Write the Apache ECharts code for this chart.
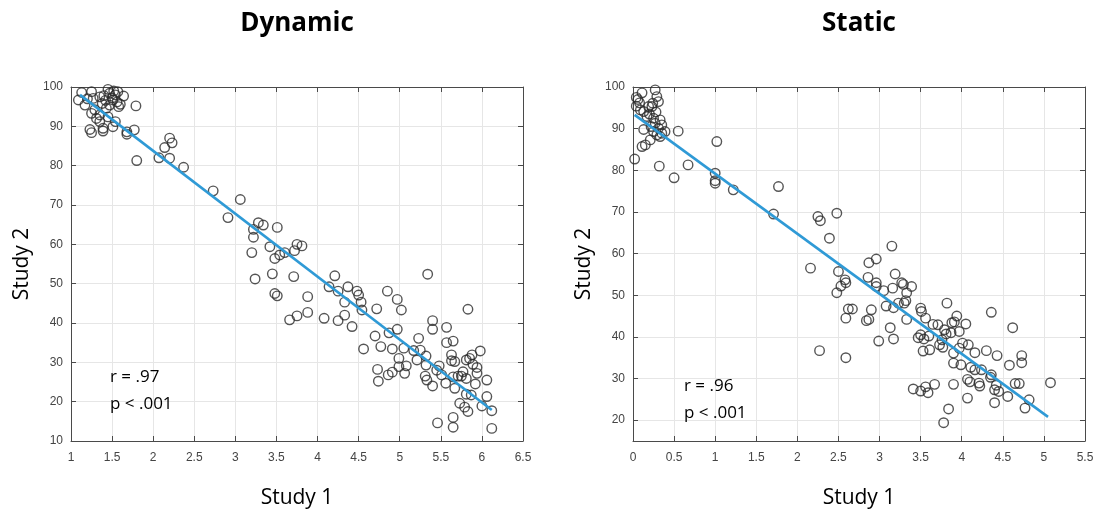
<!DOCTYPE html>
<html><head><meta charset="utf-8">
<script src="https://cdn.jsdelivr.net/npm/echarts@6/dist/echarts.min.js"></script>
<style>html,body{margin:0;padding:0;background:#fff}#c{width:1097px;height:516px}</style>
</head><body><div id="c"></div>
<script>
// ---- data ----
const dynamicPoints = [
[1.13,98.6],[1.09,96.7],[1.25,98.8],[1.17,95.4],[1.27,97.1],[1.35,97.5],[1.45,99.4],[1.47,98.4],[1.54,98.0],[1.51,96.7],
[1.64,97.7],[1.58,95.0],[1.47,95.4],[1.43,94.6],[1.29,94.2],[1.25,93.3],[1.35,92.9],[1.31,92.0],[1.35,91.2],[1.45,92.4],
[1.54,91.2],[1.51,89.9],[1.39,89.5],[1.39,88.8],[1.23,89.2],[1.25,88.4],[1.79,95.2],[1.68,88.6],[1.68,88.0],[1.77,89.1],
[1.80,81.3],[2.07,82.0],[2.14,84.6],[2.20,87.0],[2.23,85.8],[2.20,81.9],[2.37,79.6],[2.73,73.6],
[1.50,97.2],[1.56,96.2],[1.60,95.6],[1.42,96.6],[1.40,97.8],[1.52,99.0],[1.57,98.8],[1.20,97.0],[1.38,95.8],
[3.06,71.4],[2.91,66.8],[3.28,65.5],[3.34,64.9],[3.22,63.8],[3.51,64.3],[3.22,61.8],[3.42,59.4],[3.20,57.9],[3.48,56.4],
[3.54,57.3],[3.60,57.9],[3.72,58.4],[3.75,60.0],[3.81,59.6],[3.24,51.2],[3.45,52.5],[3.71,51.8],[3.48,47.5],[3.51,46.9],
[3.88,46.7],[3.66,40.8],[3.75,41.8],[3.88,42.7],[4.08,41.2],[4.21,52.0],[4.14,49.2],[4.25,48.1],[4.37,49.2],[4.48,48.1],
[4.50,47.1],[4.33,45.3],[4.53,45.3],[4.54,43.3],[4.33,42.0],[4.25,40.6],[4.42,39.1],[4.72,43.6],
[4.56,33.4],[4.85,48.1],[4.97,46.0],[5.02,43.3],[4.70,36.7],[4.77,34.0],[4.87,37.5],[4.97,38.4],[4.91,33.4],[5.05,33.6],
[4.99,31.0],[4.99,28.9],[5.08,29.1],[5.06,27.2],[4.73,28.2],[4.74,25.2],[4.86,26.8],[4.91,27.5],[5.34,52.4],[5.40,40.6],
[5.40,38.4],[5.23,36.1],[5.25,33.1],[5.17,33.0],[5.21,30.6],[5.32,31.6],[5.32,29.3],[5.31,26.5],[5.33,25.5],[5.40,24.0],
[5.46,14.6],[5.48,29.1],[5.45,28.0],[5.51,26.8],[5.57,38.9],[5.57,35.0],[5.65,35.4],[5.63,31.9],[5.63,30.4],[5.67,30.2],
[5.56,24.7],[5.67,23.4],[5.65,26.3],[5.71,26.5],[5.75,26.5],[5.81,25.9],[5.77,27.6],[5.83,43.5],[5.81,30.6],[5.85,31.0],
[5.88,31.9],[5.98,32.9],[5.89,29.5],[5.94,28.7],[5.94,27.2],[6.06,25.5],[5.92,24.5],[5.81,21.9],[5.87,21.7],[5.73,19.6],
[5.79,18.6],[5.83,17.5],[6.00,18.9],[6.06,21.3],[6.12,17.7],[5.65,16.0],[5.65,13.5],[6.12,13.2]
];
const staticPoints = [
[0.02,82.7],[0.04,97.5],[0.11,98.6],[0.04,95.4],[0.09,94.5],[0.08,96.2],[0.13,94.1],[0.17,92.9],[0.13,89.8],[0.11,85.7],
[0.15,86.1],[0.21,87.3],[0.23,95.3],[0.24,96.1],[0.27,99.3],[0.29,97.7],[0.31,96.5],[0.25,92.5],[0.27,91.3],[0.33,92.1],
[0.35,90.9],[0.31,90.1],[0.25,89.3],[0.29,88.5],[0.33,88.1],[0.39,89.3],[0.35,88.9],[0.32,81.0],[0.55,89.4],[0.50,78.2],
[0.67,81.3],[1.02,86.9],[1.00,79.3],[1.00,77.5],[1.00,76.9],[1.22,75.3],[0.19,95.3],[0.06,97.0],[0.20,93.5],[0.28,94.0],[0.22,90.5],
[1.77,76.1],[1.71,69.5],[2.25,68.9],[2.28,67.9],[2.48,69.7],[2.39,63.7],[2.16,56.5],[2.50,55.7],[2.87,57.8],[2.96,58.7],
[3.15,61.8],[2.58,53.7],[2.86,54.3],[3.19,55.1],
[2.48,50.6],[2.53,52.2],[2.59,53.0],[2.96,53.0],[2.96,52.1],[3.05,51.1],[3.16,51.7],[3.27,53.0],[3.29,52.6],[3.39,52.1],
[3.33,50.6],[3.32,48.7],[3.30,48.1],[3.23,48.1],[3.08,47.4],[3.17,47.0],[3.33,44.2],[3.13,42.2],[3.17,39.5],[2.99,39.0],
[2.62,46.7],[2.67,46.7],[2.59,44.5],[2.90,46.5],[2.87,44.2],[2.84,43.9],[2.27,36.7],[2.59,35.0],[3.50,46.9],[3.51,46.1],
[3.82,48.1],[3.56,44.5],[3.65,43.0],[3.71,42.9],[3.47,39.8],[3.50,40.5],[3.54,39.5],[3.60,40.2],[3.53,36.6],[3.61,36.9],
[3.76,39.3],[3.73,38.1],[3.77,37.5],[3.79,41.7],[3.81,40.7],[3.88,43.4],[3.91,43.6],[3.94,45.0],[3.87,41.0],[3.97,41.3],
[4.05,43.1],[3.90,36.1],[3.97,37.3],[4.01,38.5],[4.08,38.1],[3.90,33.7],[3.99,33.3],[4.11,32.7],[4.16,36.2],[4.16,32.1],
[4.24,32.1],[4.30,36.7],[4.36,45.9],[4.43,35.5],[4.36,30.9],[4.35,30.3],[4.07,29.8],[4.10,29.2],[4.21,28.9],[4.22,28.2],
[4.42,28.4],[4.40,27.3],[3.90,28.6],[4.07,25.3],[4.40,24.2],[3.41,27.5],[3.50,27.0],[3.56,28.0],[3.59,26.6],[3.67,28.6],
[3.84,22.7],[3.78,19.4],[4.45,26.9],[4.56,25.7],[4.65,28.8],[4.70,28.8],[4.77,22.9],[4.82,24.9],[5.08,29.0],
[4.62,42.2],[4.73,35.5],[4.73,33.8],[4.58,33.2]
];
const dynamicFit = [[1.11, 98.0], [6.12, 17.9]];
const staticFit = [[0.02, 93.3], [5.05, 20.8]];
const titles = ['Dynamic', 'Static'];
const dynamicStats = ['r = .97', 'p < .001'];
const staticStats = ['r = .96', 'p < .001'];
const dynamicYTicks = [10, 20, 30, 40, 50, 60, 70, 80, 90, 100];
const staticYTicks = [20, 30, 40, 50, 60, 70, 80, 90, 100];

// ---- chart ----
const axisColor = '#4a4a4a';
const gridColor = '#e6e6e6';
const labelStyle = {color: '#444', fontFamily: 'Liberation Sans', fontSize: 12};
const nameStyle = {color: '#000', fontFamily: 'Open Sans', fontSize: 21};

function xAx(g, min, max, pos) {
  return {
    type: 'value', gridIndex: g, min: min, max: max, interval: 0.5, position: pos,
    axisLine: {show: true, onZero: false, lineStyle: {color: axisColor, width: 1}},
    axisTick: {show: true, inside: true, length: 5, lineStyle: {color: axisColor}},
    axisLabel: Object.assign({show: pos === 'bottom', margin: 11}, labelStyle),
    splitLine: {show: pos === 'bottom', lineStyle: {color: gridColor, width: 1}},
    name: pos === 'bottom' ? 'Study 1' : '', nameLocation: 'middle', nameGap: 47,
    nameTextStyle: nameStyle
  };
}
function yAx(g, min, max, ticks, pos) {
  return {
    type: 'value', gridIndex: g, min: min, max: max, position: pos,
    axisLine: {show: true, onZero: false, lineStyle: {color: axisColor, width: 1}},
    axisTick: {show: true, inside: true, length: 5, lineStyle: {color: axisColor}, customValues: ticks},
    axisLabel: Object.assign({show: pos === 'left', margin: 8, customValues: ticks}, labelStyle),
    splitLine: {show: pos === 'left', lineStyle: {color: gridColor, width: 1}},
    name: pos === 'left' ? 'Study 2' : '', nameLocation: 'middle', nameGap: 38,
    nameTextStyle: nameStyle
  };
}

const grids = [
  {left: 71, top: 87, width: 452, height: 354},
  {left: 633, top: 87, width: 452, height: 354}
];

function scatter(xi, yi, pts) {
  return {
    type: 'scatter', xAxisIndex: xi, yAxisIndex: yi, data: pts, symbol: 'circle', symbolSize: 9.5,
    itemStyle: {color: 'rgba(0,0,0,0)', borderColor: '#2b2b2b', borderWidth: 1.4},
    silent: true, z: 2
  };
}
function fit(xi, yi, pts) {
  return {
    type: 'line', xAxisIndex: xi, yAxisIndex: yi, data: pts, showSymbol: false, symbol: 'none',
    lineStyle: {color: '#2f9ad6', width: 2.6}, silent: true, z: 3
  };
}
function txt(x, y, s, font, align) {
  return {type: 'text', x: x, y: y, z: 10,
    style: {text: s, font: font, fill: '#000', align: align, verticalAlign: 'middle',
      textAlign: align, textVerticalAlign: 'middle'}};
}

const chart = echarts.init(document.getElementById('c'), null, {renderer: 'canvas'});
chart.setOption({
  animation: false,
  backgroundColor: '#fff',
  grid: grids,
  xAxis: [xAx(0, 1, 6.5, 'bottom'), xAx(1, 0, 5.5, 'bottom'), xAx(0, 1, 6.5, 'top'), xAx(1, 0, 5.5, 'top')],
  yAxis: [yAx(0, 10, 100, dynamicYTicks, 'left'), yAx(1, 15, 100, staticYTicks, 'left'),
          yAx(0, 10, 100, dynamicYTicks, 'right'), yAx(1, 15, 100, staticYTicks, 'right')],
  series: [scatter(0, 0, dynamicPoints), fit(0, 0, dynamicFit),
           scatter(1, 1, staticPoints), fit(1, 1, staticFit)],
  graphic: [
    txt(297, 24, titles[0], 'bold 26px "Open Sans"', 'center'),
    txt(859, 24, titles[1], 'bold 26px "Open Sans"', 'center'),
    txt(110, 377, dynamicStats[0], '17px "Open Sans"', 'left'),
    txt(110, 404, dynamicStats[1], '17px "Open Sans"', 'left'),
    txt(684, 386, staticStats[0], '17px "Open Sans"', 'left'),
    txt(684, 413, staticStats[1], '17px "Open Sans"', 'left')
  ]
});
</script></body></html>
